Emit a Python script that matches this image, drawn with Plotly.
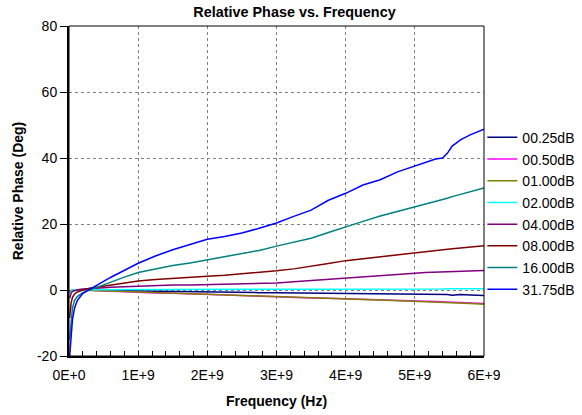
import plotly.graph_objects as go

# ---- data ----
freq_hz = [0.01e9, 0.03e9, 0.05e9, 0.08e9, 0.12e9, 0.2e9, 0.3e9, 0.45e9, 0.6e9, 0.8e9,
           1.0e9, 1.25e9, 1.5e9, 1.75e9, 2.0e9, 2.25e9, 2.5e9, 2.75e9, 3.0e9, 3.25e9,
           3.5e9, 3.75e9, 4.0e9, 4.25e9, 4.5e9, 4.75e9, 5.0e9, 5.15e9, 5.3e9, 5.4e9,
           5.47e9, 5.54e9, 5.66e9, 5.8e9, 6.0e9]

phase_00_25dB = [-0.5, -0.2, -0.1, 0.0, 0.0, -0.1, -0.1, -0.1, -0.2, -0.2,
                 -0.3, -0.4, -0.5, -0.6, -0.7, -0.75, -0.8, -0.8, -0.85, -0.9,
                 -0.95, -1.0, -1.0, -1.05, -1.1, -1.3, -1.2, -1.25, -1.3, -1.3,
                 -1.35, -1.6, -1.4, -1.5, -1.7]
phase_00_50dB = [-0.8, -0.3, -0.2, -0.1, 0.0, 0.0, -0.1, -0.2, -0.3, -0.6,
                 -0.8, -0.9, -1.0, -1.2, -1.4, -1.5, -1.7, -1.9, -2.0, -2.2,
                 -2.4, -2.5, -2.7, -2.8, -3.0, -3.1, -3.3, -3.4, -3.5, -3.6,
                 -3.6, -3.7, -3.8, -3.9, -4.1]
phase_01_00dB = [-0.3, -0.1, 0.0, 0.0, 0.0, -0.1, -0.1, -0.2, -0.3, -0.4,
                 -0.5, -0.7, -0.9, -1.1, -1.3, -1.5, -1.7, -1.8, -2.0, -2.3,
                 -2.5, -2.6, -2.7, -2.9, -3.0, -3.2, -3.3, -3.4, -3.5, -3.6,
                 -3.7, -3.8, -3.9, -4.1, -4.3]
phase_02_00dB = [-1.0, -0.3, 0.0, 0.1, 0.1, 0.2, 0.2, 0.2, 0.2, 0.2,
                 0.2, 0.2, 0.1, 0.1, 0.1, 0.1, 0.1, 0.1, 0.1, 0.1,
                 0.1, 0.2, 0.2, 0.2, 0.3, 0.3, 0.3, 0.3, 0.3, 0.3,
                 0.4, 0.4, 0.4, 0.4, 0.4]
phase_04_00dB = [-2.5, -1.0, -0.4, -0.1, 0.1, 0.3, 0.5, 0.6, 0.8, 1.0,
                 1.2, 1.4, 1.5, 1.5, 1.6, 1.6, 1.8, 1.9, 2.1, 2.5,
                 2.9, 3.3, 3.6, 4.0, 4.4, 4.8, 5.1, 5.3, 5.4, 5.5,
                 5.5, 5.6, 5.7, 5.8, 5.9]
phase_08_00dB = [-8.5, -4.0, -2.2, -1.2, -0.6, 0.0, 0.5, 1.0, 1.5, 2.1,
                 2.7, 3.2, 3.6, 3.9, 4.2, 4.5, 4.9, 5.3, 5.8, 6.4,
                 7.1, 8.0, 8.9, 9.5, 10.2, 10.8, 11.4, 11.7, 12.0, 12.2,
                 12.3, 12.5, 12.7, 13.0, 13.4]
phase_16_00dB = [-15.0, -9.0, -5.5, -3.2, -2.0, -0.8, 0.0, 1.2, 2.3, 3.9,
                 5.3, 6.4, 7.4, 8.2, 9.1, 10.0, 11.0, 12.0, 13.3, 14.5,
                 15.7, 17.4, 19.2, 20.8, 22.4, 23.8, 25.1, 25.9, 26.7, 27.3,
                 27.8, 28.3, 29.0, 29.8, 30.9]
phase_31_75dB = [-20.0, -14.0, -9.0, -5.5, -3.2, -1.0, 0.3, 2.0, 3.8, 6.0,
                 8.1, 10.3, 12.2, 13.8, 15.4, 16.2, 17.3, 18.7, 20.3, 22.3,
                 24.2, 27.2, 29.3, 31.8, 33.4, 35.8, 37.5, 38.6, 39.7, 40.0,
                 41.4, 43.6, 45.5, 47.0, 48.7]

series_names = ["00.25dB", "00.50dB", "01.00dB", "02.00dB",
                "04.00dB", "08.00dB", "16.00dB", "31.75dB"]
series_values = [phase_00_25dB, phase_00_50dB, phase_01_00dB, phase_02_00dB,
                 phase_04_00dB, phase_08_00dB, phase_16_00dB, phase_31_75dB]
series_colors = ["#000080", "#FF00FF", "#808000", "#00FFFF",
                 "#800080", "#800000", "#008080", "#0000FF"]

x_tick_vals = [0, 1e9, 2e9, 3e9, 4e9, 5e9, 6e9]
x_tick_text = ["0E+0", "1E+9", "2E+9", "3E+9", "4E+9", "5E+9", "6E+9"]
y_tick_vals = [-20, 0, 20, 40, 60, 80]
y_tick_text = ["-20", "0", "20", "40", "60", "80"]

FONT = "Arial, Liberation Sans, sans-serif"

fig = go.Figure()
for i, (name, vals, col) in enumerate(zip(series_names, series_values, series_colors)):
    fig.add_trace(go.Scatter(x=freq_hz, y=vals, name=name, mode="lines",
                             legendgroup=f"g{i}",
                             line=dict(color=col, width=1.5)))

fig.update_layout(
    width=582, height=415,
    margin=dict(l=69, r=98, t=26, b=59, autoexpand=False),
    paper_bgcolor="white", plot_bgcolor="white",
    font=dict(family=FONT, size=14, color="black"),
    hovermode=False,
    title=dict(text="<b>Relative Phase vs. Frequency</b>", xref="container",
               x=0.506, xanchor="center", yref="container", y=0.97,
               yanchor="middle", pad=dict(t=0, b=0),
               font=dict(size=14.4, family=FONT, color="black")),
    legend=dict(x=0.996, xanchor="left", y=0.431, yanchor="middle",
                font=dict(size=14, family=FONT, color="black"),
                tracegroupgap=0.5,
                bgcolor="rgba(0,0,0,0)", borderwidth=0, itemclick=False),
    showlegend=True,
)

fig.update_xaxes(
    range=[0, 6e9], tickmode="array", tickvals=x_tick_vals, ticktext=x_tick_text,
    showline=True, linecolor="black", linewidth=2, mirror=False,
    showgrid=True, gridcolor="#808080", griddash="dot", gridwidth=1,
    ticks="inside", ticklen=5, tickcolor="black", tickwidth=1,
    ticklabelstandoff=5, automargin=False,
    minor=dict(dtick=2e8, tick0=0, ticks="inside", ticklen=5, tickcolor="black",
               showgrid=False),
    zeroline=False,
    title=dict(text="<b>Frequency (Hz)</b>", font=dict(size=14, family=FONT),
               standoff=14),
    tickfont=dict(size=14, family=FONT),
)
fig.update_yaxes(
    range=[-20, 80], tickmode="array", tickvals=y_tick_vals, ticktext=y_tick_text,
    showline=True, linecolor="black", linewidth=2, mirror=False,
    showgrid=True, gridcolor="#808080", griddash="dot", gridwidth=1,
    ticks="outside", ticklen=7, tickcolor="black", tickwidth=1,
    automargin=False,
    zeroline=False,
    title=dict(text="<b>Relative Phase (Deg)</b>", font=dict(size=14, family=FONT),
               standoff=10),
    tickfont=dict(size=14, family=FONT),
)

# thin frame around the plot area
fig.add_shape(type="rect", xref="paper", yref="paper", x0=0, y0=0, x1=1, y1=1,
              line=dict(color="black", width=1), layer="above")

fig.write_html("out.html",
               config={"displayModeBar": False},
               post_script="document.body.style.margin='0';"
                           "document.body.style.overflow='hidden';")
